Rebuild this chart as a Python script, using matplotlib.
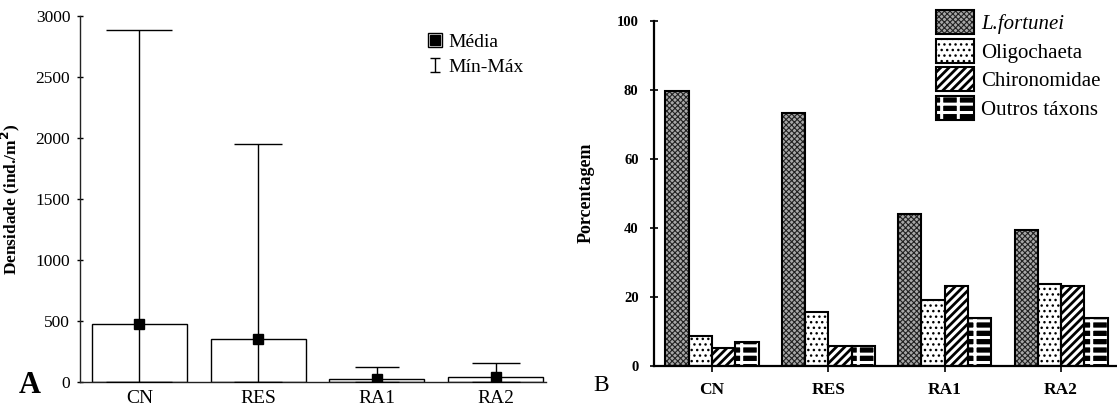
import numpy as np
import matplotlib
matplotlib.use('Agg')
import matplotlib.pyplot as plt
from matplotlib.patches import Rectangle
from matplotlib.lines import Line2D
from matplotlib.path import Path
from matplotlib.legend_handler import HandlerTuple

# sampling sites
sites = ['CN', 'RES', 'RA1', 'RA2']

# panel A: density (ind./m2)
dens_mean = [472, 350, 25, 38]
dens_min = [0, 0, 0, 0]
dens_max = [2885, 1955, 125, 152]

# panel B: relative abundance (%)
taxa = ['L.fortunei', 'Oligochaeta', 'Chironomidae', 'Outros táxons']
pct_fortunei = [79.5, 73.2, 44.0, 39.3]
pct_oligochaeta = [8.5, 15.5, 19.0, 23.6]
pct_chironomidae = [5.2, 5.6, 23.1, 23.2]
pct_outros = [6.8, 5.7, 13.9, 13.9]

plt.rcParams['font.family'] = ['Liberation Serif', 'DejaVu Serif']


def set_hatch_lw(patch, lw):
    if hasattr(patch, 'set_hatch_linewidth'):
        patch.set_hatch_linewidth(lw)
    else:
        patch._hatch_linewidth = lw


fig = plt.figure(figsize=(11.17, 4.08), dpi=100)

# ---------------- panel A ----------------
ax1 = fig.add_axes([0.0716, 0.0637, 0.4168, 0.897])
x = np.arange(len(sites))
ax1.bar(x, dens_mean, width=0.8, color='white', edgecolor='black', linewidth=1, zorder=2)

cap_sizes = [23.8, 17, 16, 17]
for i in range(len(sites)):
    lo = dens_mean[i] - dens_min[i]
    hi = dens_max[i] - dens_mean[i]
    ax1.errorbar(x[i], dens_mean[i], yerr=[[lo], [hi]], fmt='none', ecolor='black',
                 elinewidth=1, capsize=cap_sizes[i], capthick=1, zorder=3)
ax1.plot(x, dens_mean, 's', color='black', markersize=7, linestyle='none', zorder=4)

ax1.set_xlim(-0.5, 3.42)
ax1.set_ylim(0, 3000)
ax1.set_yticks(np.arange(0, 3001, 500))
ax1.set_xticks(x)
ax1.set_xticklabels(sites, fontsize=14)
ax1.tick_params(axis='x', length=0, pad=6)
ax1.tick_params(axis='y', direction='inout', length=4, width=1, labelsize=12.5, pad=5)
for s in ['top', 'right']:
    ax1.spines[s].set_visible(False)
for s in ['left', 'bottom']:
    ax1.spines[s].set_linewidth(1)
    ax1.spines[s].set_color('#222222')
ax1.set_ylabel('Densidade (ind./m$^\\mathbf{2}$)', fontsize=12.5, fontweight='bold')
ax1.yaxis.set_label_coords(-0.125, 0.5)

# legend symbols
ibar = Path([(-0.7, -1), (0.7, -1), (0, -1), (0, 1), (-0.7, 1), (0.7, 1)],
            [Path.MOVETO, Path.LINETO, Path.MOVETO, Path.LINETO, Path.MOVETO, Path.LINETO])
h_mean = (Rectangle((0, 0), 1, 1, facecolor='white', edgecolor='black', linewidth=1),
          Line2D([], [], marker='s', color='black', markersize=6.5, linestyle='none'))
h_range = Line2D([], [], marker=ibar, color='black', markersize=10, markeredgewidth=1,
                 fillstyle='none', linestyle='none')
ax1.legend([h_mean, h_range], ['Média', 'Mín-Máx'], loc='upper left',
           bbox_to_anchor=(0.383, 0.918), bbox_transform=fig.transFigure,
           frameon=False, fontsize=14, handlelength=0.72, handleheight=0.72,
           handletextpad=0.35, labelspacing=0.35, borderpad=0, borderaxespad=0,
           handler_map={tuple: HandlerTuple(ndivide=1)})

fig.text(0.0265, 0.054, 'A', fontsize=22, fontweight='bold', ha='center', va='center')

# ---------------- panel B ----------------
ax2 = fig.add_axes([0.5853, 0.1037, 0.4147, 0.8456])
series = [pct_fortunei, pct_oligochaeta, pct_chironomidae, pct_outros]
faces = ['#a8a8a8', 'white', 'white', 'black']
hatch_cols = ['#222222', 'black', 'black', 'white']
hatches = ['xxxxxx', '...', '////', '--|']
hatch_lws = [0.8, 1.0, 2.0, 2.2]
w = 0.2
handles = []
for k, vals in enumerate(series):
    pos = x + (k - 1.5) * w
    bars = ax2.bar(pos, vals, width=w, color=faces[k], edgecolor=hatch_cols[k],
                   hatch=hatches[k], linewidth=0, zorder=2)
    for b in bars:
        set_hatch_lw(b, hatch_lws[k])
    ax2.bar(pos, vals, width=w, fill=False, edgecolor='black', linewidth=1.5, zorder=3)
    fill = Rectangle((0, 0), 1, 1, facecolor=faces[k], edgecolor=hatch_cols[k],
                     hatch=hatches[k], linewidth=0)
    handles.append((fill, Rectangle((0, 0), 1, 1, fill=False, edgecolor='black', linewidth=1.5)))

ax2.set_xlim(-0.5, 3.48)
ax2.set_ylim(0, 100)
ax2.set_yticks(np.arange(0, 101, 20))
ax2.set_xticks(x)
ax2.set_xticklabels(sites, fontsize=12.5, fontweight='bold')
ax2.tick_params(axis='x', direction='out', length=4, width=1.2, pad=8)
ax2.tick_params(axis='y', direction='inout', length=6, width=1.2, labelsize=10.5, pad=8)
for lab in ax2.get_yticklabels():
    lab.set_fontweight('bold')
for s in ['top', 'right']:
    ax2.spines[s].set_visible(False)
for s in ['left', 'bottom']:
    ax2.spines[s].set_linewidth(1.6)
ax2.set_ylabel('Porcentagem', fontsize=13, fontweight='bold')
ax2.yaxis.set_label_coords(-0.127, 0.5)

leg = ax2.legend(handles, taxa, loc='upper left',
                 bbox_to_anchor=(936 / 1117, 1 - 10 / 408), bbox_transform=fig.transFigure,
                 frameon=False, fontsize=15, handlelength=1.8, handleheight=1.4,
                 handletextpad=0.35, labelspacing=0.22, borderpad=0, borderaxespad=0,
                 handler_map={tuple: HandlerTuple(ndivide=1)})
leg.get_texts()[0].set_fontstyle('italic')
# legend copies lose the per-bar hatch width, so set it again
for p in leg.findobj(Rectangle):
    h = p.get_hatch()
    if h in hatches:
        set_hatch_lw(p, hatch_lws[hatches.index(h)])

fig.text(0.538, 0.056, 'B', fontsize=17, ha='center', va='center')

fig.savefig('out.png', dpi=100, facecolor='white')
